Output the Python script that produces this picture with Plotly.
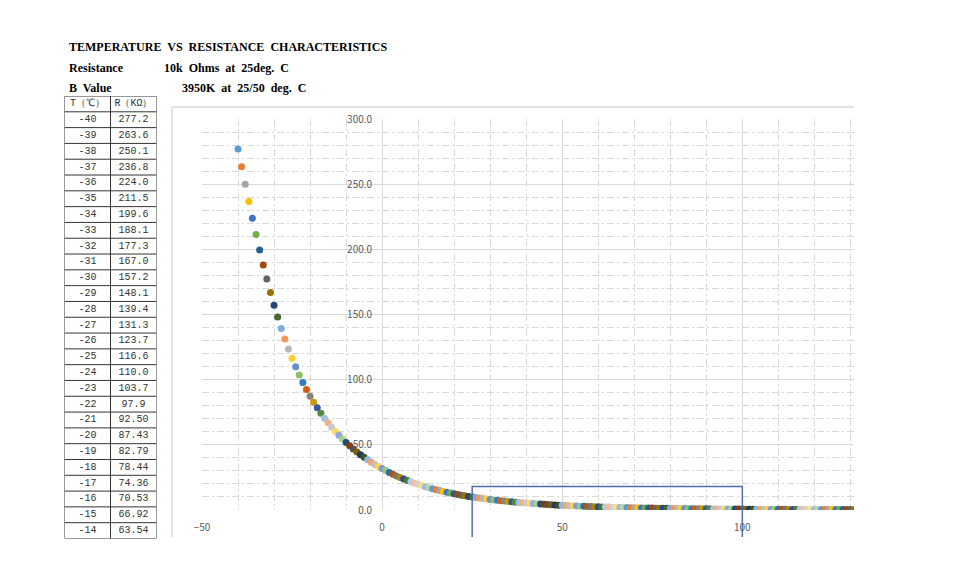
import colorsys
import plotly.graph_objects as go

# ---------------- data ----------------
temps_c = list(range(-40, 132))
res_kohm = [
    277.2, 263.6, 250.1, 236.8, 224.0, 211.5, 199.6, 188.1, 177.3, 167.0,
    157.2, 148.1, 139.4, 131.3, 123.7, 116.6, 110.0, 103.7, 97.9, 92.50,
    87.43, 82.79, 78.44, 74.36, 70.53, 66.92, 63.54, 60.34, 57.33, 54.50,
    51.82, 49.28, 46.89, 44.62, 42.48, 40.45, 38.53, 36.70, 34.97, 33.33,
    31.77, 30.25, 28.82, 27.45, 26.16, 24.94, 23.77, 22.67, 21.62, 20.63,
    19.68, 18.78, 17.93, 17.12, 16.35, 15.62, 14.93, 14.26, 13.63, 13.04,
    12.47, 11.92, 11.41, 10.91, 10.45, 10.00, 9.575, 9.170, 8.784, 8.416,
    8.064, 7.730, 7.410, 7.106, 6.815, 6.538, 6.273, 6.020, 5.778, 5.548,
    5.327, 5.117, 4.915, 4.723, 4.539, 4.363, 4.195, 4.034, 3.880, 3.733,
    3.592, 3.457, 3.328, 3.204, 3.086, 2.972, 2.863, 2.759, 2.659, 2.564,
    2.472, 2.384, 2.299, 2.218, 2.141, 2.066, 1.994, 1.926, 1.860, 1.796,
    1.735, 1.677, 1.621, 1.567, 1.515, 1.465, 1.417, 1.371, 1.326, 1.284,
    1.243, 1.203, 1.165, 1.128, 1.093, 1.059, 1.027, 0.9955, 0.9654, 0.9363,
    0.9083, 0.8812, 0.8550, 0.8297, 0.8052, 0.7816, 0.7587, 0.7366, 0.7152, 0.6945,
    0.6744, 0.6558, 0.6376, 0.6199, 0.6026, 0.5858, 0.5694, 0.5535, 0.5380, 0.5229,
    0.5083, 0.4941, 0.4803, 0.4669, 0.4539, 0.4412, 0.4290, 0.4171, 0.4055, 0.3944,
    0.3835, 0.3730, 0.3628, 0.3530, 0.3434, 0.3341, 0.3251, 0.3164, 0.3079, 0.2997,
    0.2917, 0.2840,
]

table_temps = ["-40", "-39", "-38", "-37", "-36", "-35", "-34", "-33", "-32",
               "-31", "-30", "-29", "-28", "-27", "-26", "-25", "-24", "-23",
               "-22", "-21", "-20", "-19", "-18", "-17", "-16", "-15", "-14"]
table_res = ["277.2", "263.6", "250.1", "236.8", "224.0", "211.5", "199.6",
             "188.1", "177.3", "167.0", "157.2", "148.1", "139.4", "131.3",
             "123.7", "116.6", "110.0", "103.7", "97.9", "92.50", "87.43",
             "82.79", "78.44", "74.36", "70.53", "66.92", "63.54"]
table_header = ["T（℃）", "R（KΩ）"]

x_ticks = [-50, 0, 50, 100]
highlight_range = [25, 100]

# ---------------- style ----------------
W, H = 954, 570
accents = ["#5B9BD5", "#ED7D31", "#A5A5A5", "#FFC000", "#4472C4", "#70AD47"]
variants = [(1, 0), (0.6, 0), (0.8, 0.2), (0.8, 0), (0.6, 0.4),
            (0.5, 0), (0.7, 0.3), (0.7, 0), (0.5, 0.5)]


def office(hexc, mod, off):
    r, g, b = (int(hexc[i:i + 2], 16) / 255 for i in (1, 3, 5))
    h, l, s = colorsys.rgb_to_hls(r, g, b)
    l = min(1.0, l * mod + off)
    r, g, b = colorsys.hls_to_rgb(h, l, s)
    return "#%02x%02x%02x" % (round(r * 255), round(g * 255), round(b * 255))


palette = [office(c, m, o) for (m, o) in variants for c in accents]
point_colors = [palette[i % len(palette)] for i in range(len(temps_c))]


def px(x):
    return x / W


def py(y):
    return 1 - y / H


grid = "#d9d9d9"
tick_font = dict(family="Noto Sans CJK SC", size=10, color="#595959")
dash = "7px,3px,2px,3px"

fig = go.Figure()

fig.add_trace(go.Scatter(
    x=temps_c, y=res_kohm, mode="markers",
    marker=dict(size=7, color=point_colors, line=dict(width=0)),
    showlegend=False, hoverinfo="x+y",
))

# ---- side table drawn on its own axes (col index, row index) ----
n_rows = len(table_temps) + 1
col_texts = [[table_header[0]] + table_temps, [table_header[1]] + table_res]
for ci, texts_col in enumerate(col_texts):
    fig.add_trace(go.Scatter(
        x=[ci] * n_rows, y=list(range(n_rows)), mode="text",
        text=texts_col, textposition="middle center",
        textfont=dict(family="Liberation Mono", size=10, color="#333"),
        xaxis="x2", yaxis="y2", showlegend=False, hoverinfo="skip",
    ))

tbl_line = dict(color="#333", width=1)
for k in range(n_rows + 1):
    fig.add_shape(type="line", xref="x2", yref="y2",
                  x0=-0.5, x1=1.5, y0=k - 0.5, y1=k - 0.5, line=tbl_line)
for c in (-0.5, 0.5, 1.5):
    fig.add_shape(type="line", xref="x2", yref="y2",
                  x0=c, x1=c, y0=-0.5, y1=n_rows - 0.5, line=tbl_line)

fig.update_layout(
    width=W, height=H, autosize=False,
    margin=dict(l=0, r=0, t=0, b=0),
    paper_bgcolor="white", plot_bgcolor="white",
    xaxis=dict(
        domain=[px(202), px(854)], range=[-50, 131],
        tickmode="array", tickvals=x_ticks,
        showgrid=True, gridcolor=grid, gridwidth=1,
        minor=dict(tick0=-50, dtick=10, showgrid=True, gridcolor=grid,
                   gridwidth=1, griddash=dash),
        zeroline=False, showline=False, ticks="",
        tickfont=tick_font, ticklabelstandoff=10, automargin=False,
    ),
    yaxis=dict(
        domain=[py(510), py(119.3)], range=[0, 300],
        tick0=0, dtick=50, tickformat=".1f",
        anchor="free", position=px(382.1),
        showgrid=True, gridcolor=grid, gridwidth=1,
        minor=dict(tick0=0, dtick=10, showgrid=True, gridcolor=grid,
                   gridwidth=1, griddash=dash),
        zeroline=False, showline=False, ticks="",
        tickfont=tick_font, ticklabelstandoff=10, automargin=False,
    ),
    xaxis2=dict(domain=[px(64.5), px(156.5)], range=[-0.5, 1.5],
                visible=False, fixedrange=True, anchor="y2"),
    yaxis2=dict(domain=[py(538.5), py(96)], range=[n_rows - 0.5, -0.5],
                visible=False, fixedrange=True, anchor="x2"),
)

# chart-area border (light grey)
fig.add_shape(type="line", xref="paper", yref="paper",
              x0=px(172), x1=px(172), y0=py(537), y1=py(107),
              line=dict(color=grid, width=1.5))
fig.add_shape(type="line", xref="paper", yref="paper",
              x0=px(172), x1=px(854), y0=py(107), y1=py(107),
              line=dict(color=grid, width=1.5))

# highlight box (open at the bottom where the picture is cut off)
hx0, hx1 = highlight_range
hy_bot, hy_top = py(537), py(486.5)
fig.add_shape(type="path", xref="x", yref="paper",
              path="M %g,%g L %g,%g L %g,%g L %g,%g" % (
                  hx0, hy_bot, hx0, hy_top, hx1, hy_top, hx1, hy_bot),
              line=dict(color="#4e6fae", width=1.5))

serif = dict(family="Liberation Serif", size=12, color="black")
texts = [
    ("TEMPERATURE\u00a0 VS\u00a0 RESISTANCE\u00a0 CHARACTERISTICS", 67, 47),
    ("Resistance", 67, 68),
    ("10k\u00a0 Ohms\u00a0 at\u00a0 25deg.\u00a0 C", 162, 68),
    ("B\u00a0 Value", 67, 88),
    ("3950K\u00a0 at\u00a0 25/50\u00a0 deg.\u00a0 C", 180, 88),
]
for t, x, y in texts:
    fig.add_annotation(text="<b>%s</b>" % t, xref="paper", yref="paper",
                       x=px(x), y=py(y), xanchor="left", yanchor="middle",
                       showarrow=False, font=serif)

fig.write_html("out.html")
